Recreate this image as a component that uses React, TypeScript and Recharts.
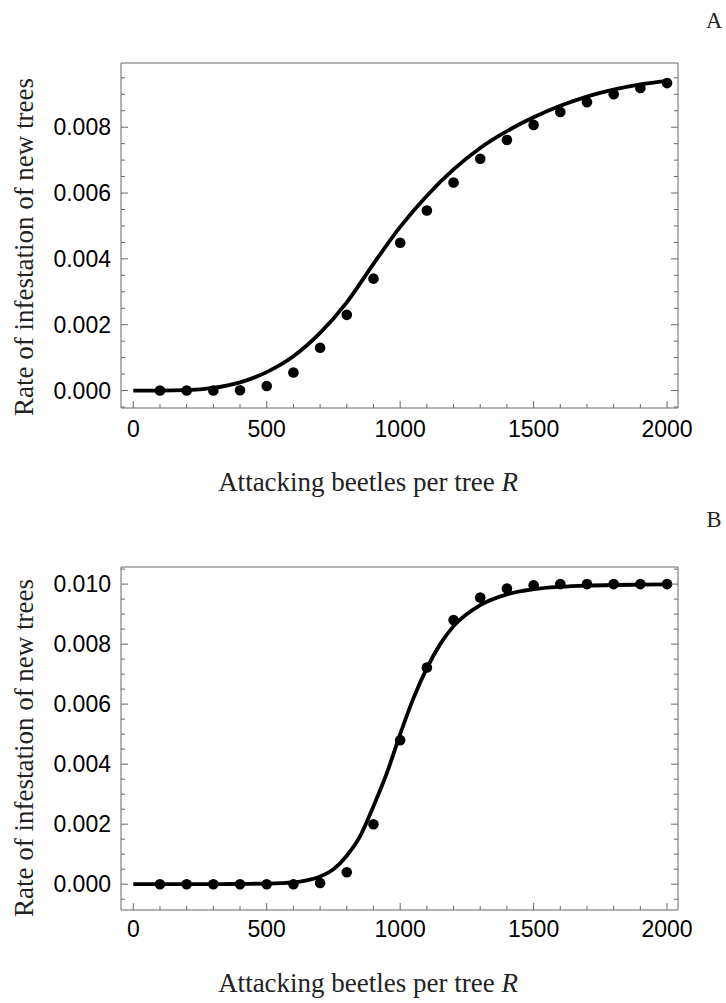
import React from 'react';
import { ComposedChart, Line, Scatter, XAxis, YAxis } from 'recharts';

// beetles per tree (R) for the simulated points
const dotR = [100, 200, 300, 400, 500, 600, 700, 800, 900, 1000, 1100, 1200, 1300, 1400, 1500, 1600, 1700, 1800, 1900, 2000];
const dotsA = [0, 0, 0, 0.00001, 0.00014, 0.00055, 0.0013, 0.0023, 0.0034, 0.00449, 0.00547, 0.00632, 0.00704, 0.00761, 0.00807, 0.00846, 0.00876, 0.009, 0.00919, 0.00934];
const dotsB = [0, 0, 0, 0, 0, 0, 0.00004, 0.0004, 0.002, 0.0048, 0.00722, 0.0088, 0.00955, 0.00985, 0.00996, 0.01, 0.01, 0.01, 0.01, 0.01];

// fitted curves
const curveRA = [0, 100, 200, 300, 400, 500, 600, 700, 800, 900, 1000, 1100, 1200, 1300, 1400, 1500, 1600, 1700, 1800, 1900, 2000];
const curveA = [0, 0, 0.00001, 0.00008, 0.00025, 0.00056, 0.00104, 0.00175, 0.00268, 0.00385, 0.00497, 0.00592, 0.00672, 0.00737, 0.00788, 0.0083, 0.00865, 0.00893, 0.00914, 0.0093, 0.00941];
const curveRB = [0, 100, 200, 300, 400, 500, 600, 650, 700, 750, 800, 850, 900, 950, 1000, 1050, 1100, 1150, 1200, 1300, 1400, 1500, 1600, 1700, 1800, 1900, 2000];
const curveB = [0, 0, 0, 0, 0.00001, 0.00002, 0.00006, 0.00013, 0.00026, 0.0005, 0.00095, 0.0016, 0.0026, 0.0037, 0.005, 0.0062, 0.0072, 0.008, 0.0086, 0.0093, 0.00966, 0.00983, 0.00991, 0.00995, 0.00997, 0.00998, 0.00999];

const xMajor = [0, 500, 1000, 1500, 2000];
const xMinor = [0, 100, 200, 300, 400, 500, 600, 700, 800, 900, 1000, 1100, 1200, 1300, 1400, 1500, 1600, 1700, 1800, 1900, 2000];
const yMajorA = [0, 0.002, 0.004, 0.006, 0.008];
const yMinorA = [-0.0005, 0, 0.0005, 0.001, 0.0015, 0.002, 0.0025, 0.003, 0.0035, 0.004, 0.0045, 0.005, 0.0055, 0.006, 0.0065, 0.007, 0.0075, 0.008, 0.0085, 0.009, 0.0095];
const yMajorB = [0, 0.002, 0.004, 0.006, 0.008, 0.01];
const yMinorB = [-0.0005, 0, 0.0005, 0.001, 0.0015, 0.002, 0.0025, 0.003, 0.0035, 0.004, 0.0045, 0.005, 0.0055, 0.006, 0.0065, 0.007, 0.0075, 0.008, 0.0085, 0.009, 0.0095, 0.01, 0.0105];

const xTitle = 'Attacking beetles per tree ';
const yTitle = 'Rate of infestation of new trees';

const frame = '#666';
const sans = 'Liberation Sans, Arial, sans-serif';
const serif = 'Liberation Serif, Times New Roman, serif';

const isMajor = (v: number, majors: number[]) => majors.some((m) => Math.abs(m - v) < 1e-9);

// frame ticks point inward; labels only on bottom / left
const makeTick = (side: string, majors: number[], labels: boolean, labelGap: number) => (p: any) => {
  const v = p.payload.value;
  const major = isMajor(v, majors);
  const len = major ? 7 : 4;
  const { x, y } = p;
  let line;
  if (side === 'bottom') line = <line x1={x} x2={x} y1={y} y2={y - len} stroke={frame} />;
  else if (side === 'top') line = <line x1={x} x2={x} y1={y} y2={y + len} stroke={frame} />;
  else if (side === 'left') line = <line x1={x} x2={x + len} y1={y} y2={y} stroke={frame} />;
  else line = <line x1={x} x2={x - len} y1={y} y2={y} stroke={frame} />;
  let label = null;
  if (labels && major) {
    label = side === 'bottom'
      ? <text x={x} y={y + labelGap} textAnchor="middle" fontSize={23} fontFamily={sans} fill="#000">{v}</text>
      : <text x={x - labelGap} y={y} dy="0.36em" textAnchor="end" fontSize={23} fontFamily={sans} fill="#000">{v.toFixed(3)}</text>;
  }
  return <g>{line}{label}</g>;
};

const Dot = (p: any) => <circle cx={p.cx} cy={p.cy} r={5.3} fill="#000" />;

function Panel({ dots, curveR, curve, yDomain, yMajor, yMinor, top, marginTop, marginBottom, xGap }: any) {
  const dotData = dotR.map((r, i) => ({ x: r, y: dots[i] }));
  const lineData = curveR.map((r: number, i: number) => ({ x: r, y: curve[i] }));
  const xDomain = [-46, 2041];
  const common = { type: 'number' as const, allowDataOverflow: true, interval: 0, tickSize: 0, tickMargin: 0, tickLine: false };
  return (
    <div style={{ position: 'absolute', left: 0, top }}>
      <ComposedChart width={726} height={500} margin={{ top: marginTop, right: 47, bottom: marginBottom, left: 120 }}>
        <XAxis xAxisId="b" dataKey="x" domain={xDomain} ticks={xMinor} height={1} {...common}
          axisLine={{ stroke: frame }} tick={makeTick('bottom', xMajor, true, xGap)} />
        <XAxis xAxisId="t" orientation="top" domain={xDomain} ticks={xMinor} height={1} {...common}
          axisLine={{ stroke: frame }} tick={makeTick('top', xMajor, false, 0)} />
        <YAxis yAxisId="l" dataKey="y" domain={yDomain} ticks={yMinor} width={1} {...common}
          axisLine={{ stroke: frame }} tick={makeTick('left', yMajor, true, 10)} />
        <YAxis yAxisId="r" orientation="right" domain={yDomain} ticks={yMinor} width={1} {...common}
          axisLine={{ stroke: frame }} tick={makeTick('right', yMajor, false, 0)} />
        <Line xAxisId="b" yAxisId="l" data={lineData} dataKey="y" type="monotone" stroke="#000" strokeWidth={3.8}
          dot={false} activeDot={false} isAnimationActive={false} />
        <Scatter xAxisId="b" yAxisId="l" data={dotData} dataKey="y" shape={<Dot />} isAnimationActive={false} />
      </ComposedChart>
    </div>
  );
}

export default function App() {
  return (
    <div style={{ position: 'absolute', left: 0, top: 0, width: 726, height: 1003, background: '#fff' }}>
      <Panel dots={dotsA} curveR={curveRA} curve={curveA} yDomain={[-0.00053, 0.00995]} yMajor={yMajorA} yMinor={yMinorA}
        top={0} marginTop={62} marginBottom={91} xGap={29} />
      <Panel dots={dotsB} curveR={curveRB} curve={curveB} yDomain={[-0.00086, 0.01057]} yMajor={yMajorB} yMinor={yMinorB}
        top={503} marginTop={63} marginBottom={92} xGap={27} />
      <svg width={726} height={1003} style={{ position: 'absolute', left: 0, top: 0, pointerEvents: 'none' }}>
        <g fontFamily={serif} fill="#222">
          <text x={714} y={28} fontSize={22.5} textAnchor="middle">A</text>
          <text x={714} y={527} fontSize={22.5} textAnchor="middle">B</text>
          {[0, 501].map((dy) => (
            <g key={dy}>
              <text x={518} y={491 + dy} fontSize={27} textAnchor="end">
                {xTitle}<tspan fontStyle="italic">R</tspan>
              </text>
              <text transform={`translate(33, ${247 + dy}) rotate(-90)`} fontSize={27} textAnchor="middle">{yTitle}</text>
            </g>
          ))}
        </g>
      </svg>
    </div>
  );
}
